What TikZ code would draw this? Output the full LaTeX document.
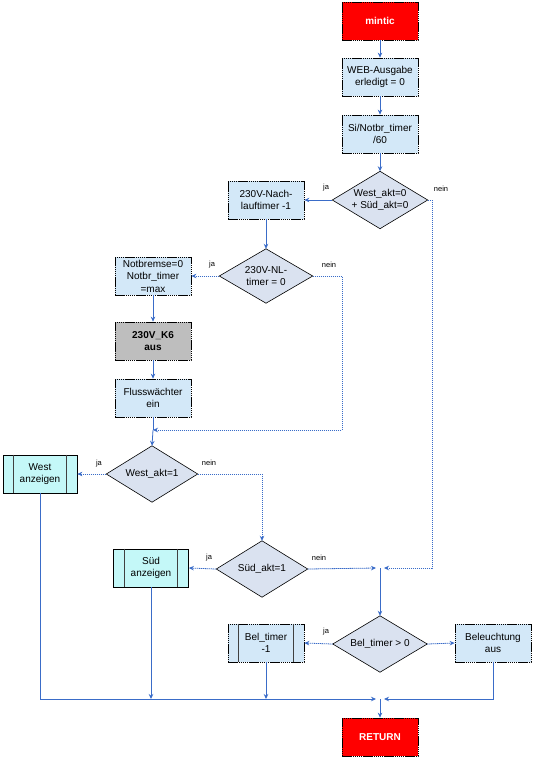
\documentclass[tikz,border=0pt]{standalone}
\usepackage{fontspec}
\setmainfont{Liberation Sans}
\usetikzlibrary{arrows.meta,backgrounds}
\definecolor{procfill}{HTML}{D3E8F8}
\definecolor{decfill}{HTML}{DAE2F0}
\definecolor{cyanfill}{HTML}{C4F8F8}
\definecolor{grayfill}{HTML}{BEBEBE}
\definecolor{redfill}{HTML}{FF0000}
\definecolor{lineblue}{HTML}{3A6CC8}
\tikzset{
  base/.style={minimum width=76pt,minimum height=38pt,inner sep=1pt,align=center,
    font=\fontsize{10}{12.5}\selectfont},
  proc/.style={base,draw=black,fill=procfill,dash pattern=on 1.5pt off 0.6pt,line width=0.7pt},
  term/.style={base,draw=black,fill=redfill,text=white,line width=0.7pt,
    dash pattern=on 1.5pt off 0.6pt,font=\fontsize{10}{12.5}\selectfont\bfseries},
  grayproc/.style={proc,fill=grayfill,font=\fontsize{10}{12.5}\selectfont\bfseries},
  cyanproc/.style={base,draw=black,fill=cyanfill,line width=0.7pt},
  decnode/.style={minimum width=95pt,minimum height=57pt,inner sep=0pt,align=center,
    font=\fontsize{10}{12.5}\selectfont},
  decshape/.style={draw=black,fill=decfill,line width=0.6pt},
  flow/.style={draw=lineblue,line width=0.8pt,-{Stealth[length=5pt,width=4.5pt]}},
  flowd/.style={flow,dash pattern=on 1.3pt off 0.7pt},
  lineonly/.style={draw=lineblue,line width=0.8pt},
  lineonlyd/.style={lineonly,dash pattern=on 1.3pt off 0.7pt},
  lbl/.style={font=\fontsize{7.5}{9}\selectfont,inner sep=0pt},
  bar/.style={draw=black!75,line width=0.9pt}
}
\begin{document}
\begin{tikzpicture}[x=1pt,y=-1pt]
\useasboundingbox (0,0) rectangle (533,759);
% nodes
\node[term] (start) at (380,21) {mintic};
\node[proc] (web) at (380,77) {WEB-Ausgabe\\erledigt = 0};
\node[proc] (si) at (380,134) {Si/Notbr\_timer\\/60};
\node[decnode] (d1) at (380,200) {West\_akt=0\\+ Süd\_akt=0};
\node[proc] (nach) at (266,200) {230V-Nach-\\lauftimer -1};
\node[decnode,minimum width=93pt,minimum height=54pt] (nl) at (266,276) {230V-NL-\\timer = 0};
\node[proc] (notb) at (153,276) {Notbremse=0\\Notbr\_timer\\=max};
\node[grayproc] (k6) at (153,341) {230V\_K6\\aus};
\node[proc] (fluss) at (153,398) {Flusswächter\\ein};
\node[decnode,minimum width=91pt,minimum height=56pt] (west) at (152,474) {West\_akt=1};
\node[cyanproc,minimum width=74pt] (wa) at (40,474) {West\\anzeigen};
\node[decnode,minimum width=91pt,minimum height=56pt] (sued) at (262,569) {Süd\_akt=1};
\node[cyanproc,minimum width=75pt] (sa) at (151,568) {Süd\\anzeigen};
\node[decnode,minimum width=94pt,minimum height=56pt] (bel) at (380,644) {Bel\_timer > 0};
\node[proc] (belm) at (266,643) {Bel\_timer\\-1};
\node[proc] (bela) at (493,643) {Beleuchtung\\aus};
\node[term] (ret) at (380,737) {RETURN};
% diamonds on background
\begin{scope}[on background layer]
\foreach \d in {d1,nl,west,sued,bel}{
  \path[decshape] (\d.north) -- (\d.east) -- (\d.south) -- (\d.west) -- cycle;
}
\end{scope}
% bars for predefined process
\foreach \n in {wa,sa,belm}{
  \draw[bar] ([xshift=11pt]\n.north west) -- ([xshift=11pt]\n.south west);
  \draw[bar] ([xshift=-11pt]\n.north east) -- ([xshift=-11pt]\n.south east);
}
% coordinates
\coordinate (m1) at (153,430);
\coordinate (j1) at (380,568);
\coordinate (j2) at (380,699);
% connectors
\draw[flow] (start) -- (web);
\draw[flow] (web) -- (si);
\draw[flow] (si) -- (d1);
\draw[flow] (d1.west) -- (nach.east);
\draw[flowd] (d1.east) -| (432,568) -- ([xshift=4pt]j1);
\draw[flow] (nach) -- (nl.north);
\draw[flowd] (nl.west) -- (notb.east);
\draw[flowd] (nl.east) -| (342,430) -- (m1);
\draw[flow] (notb) -- (k6);
\draw[flow] (k6) -- (fluss);
\draw[lineonly] (fluss) -- (m1);
\draw[flow] (m1) -- (west.north);
\draw[flowd] (west.west) -- (wa.east);
\draw[flowd] (west.east) -| (sued.north);
\draw[flowd] (sued.west) -- (sa.east);
\draw[flowd] (sued.east) -- ([xshift=-4pt]j1);
\draw[flow] (j1) -- (bel.north);
\draw[flowd] (bel.west) -- (belm.east);
\draw[flowd] (bel.east) -- (bela.west);
\draw[flowd] (wa.south) |- ([xshift=-4pt]j2);
\draw[flow] (sa.south) -- (sa.south |- j2);
\draw[flow] (belm.south) -- (belm.south |- j2);
\draw[flowd] (bela.south) |- ([xshift=4pt]j2);
\draw[flow] (j2) -- (ret);
% labels
\node[lbl] (l1) at (326,188) {ja};
\node[lbl] (l2) at (441,189) {nein};
\node[lbl] (l3) at (212,265) {ja};
\node[lbl] (l4) at (329,265) {nein};
\node[lbl] (l5) at (99,464) {ja};
\node[lbl] (l6) at (209,463) {nein};
\node[lbl] (l7) at (209,558) {ja};
\node[lbl] (l8) at (319,558) {nein};
\node[lbl] (l9) at (326,632) {ja};
\end{tikzpicture}
\end{document}
